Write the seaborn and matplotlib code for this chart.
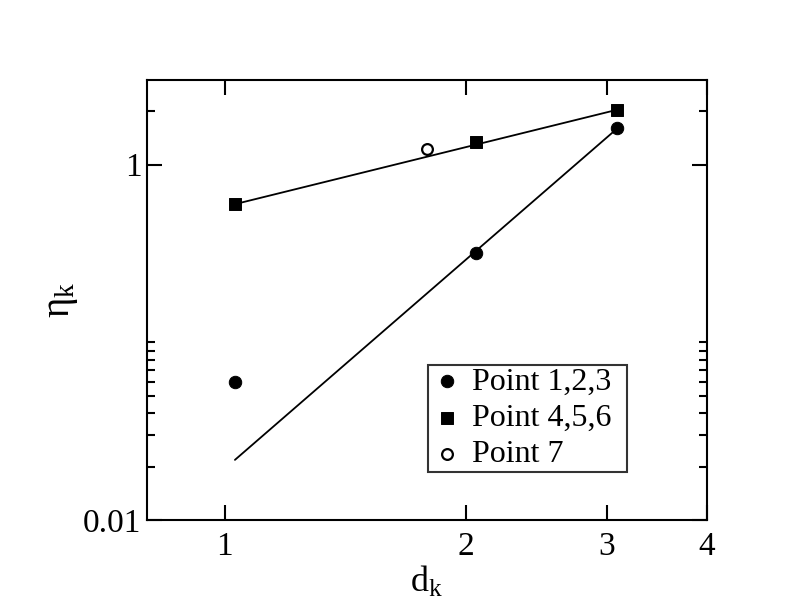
import numpy as np
import pandas as pd
import matplotlib
matplotlib.use('Agg')
import matplotlib.pyplot as plt
from matplotlib.ticker import FixedLocator, FixedFormatter, NullLocator, NullFormatter
import seaborn as sns

# values
d_123 = [1.03, 2.06, 3.09]
eta_123 = [0.060, 0.32, 1.60]
d_456 = [1.03, 2.06, 3.09]
eta_456 = [0.60, 1.35, 2.04]
d_7 = [1.79]
eta_7 = [1.23]

# fitted lines (end points)
fit_x = [1.03, 3.09]
fit_123 = [0.0218, 1.60]
fit_456 = [0.60, 2.04]

x_ticks = [1, 2, 3, 4]
x_labels = ['1', '2', '3', '4']
y_ticks = [0.01, 1]
y_labels = ['0.01', '1']

sns.set_style('ticks')
plt.rcParams['font.family'] = ['Liberation Serif', 'DejaVu Serif']
plt.rcParams['mathtext.fontset'] = 'custom'
plt.rcParams['mathtext.rm'] = 'Liberation Serif'
plt.rcParams['mathtext.it'] = 'Liberation Serif'
for k in ['text.color', 'axes.labelcolor', 'xtick.color', 'ytick.color']:
    plt.rcParams[k] = 'black'

fig = plt.figure(figsize=(7.92, 6.12), dpi=100)
ax = fig.add_axes([147 / 792, 92 / 612, 560 / 792, 440 / 612])

df123 = pd.DataFrame({'d': d_123, 'eta': eta_123})
df456 = pd.DataFrame({'d': d_456, 'eta': eta_456})
df7 = pd.DataFrame({'d': d_7, 'eta': eta_7})

sns.lineplot(x=fit_x, y=fit_456, ax=ax, color='black', lw=1.3, legend=False)
sns.lineplot(x=fit_x, y=fit_123, ax=ax, color='black', lw=1.3, legend=False)

sns.scatterplot(data=df123, x='d', y='eta', ax=ax, marker='o', s=80,
                color='black', edgecolor='black', label='Point 1,2,3', zorder=3)
sns.scatterplot(data=df456, x='d', y='eta', ax=ax, marker='s', s=75,
                color='black', edgecolor='black', label='Point 4,5,6', zorder=3)
sns.scatterplot(data=df7, x='d', y='eta', ax=ax, marker='o', s=60,
                facecolor='white', edgecolor='black', linewidth=1.6,
                label='Point 7', zorder=3)

ax.set_xscale('log')
ax.set_yscale('log')
ax.set_xlim(0.8, 4)
ax.set_ylim(0.01, 3)

ax.xaxis.set_major_locator(FixedLocator(x_ticks))
ax.xaxis.set_major_formatter(FixedFormatter(x_labels))
ax.xaxis.set_minor_locator(NullLocator())
ax.xaxis.set_minor_formatter(NullFormatter())
ax.yaxis.set_major_locator(FixedLocator(y_ticks))
ax.yaxis.set_major_formatter(FixedFormatter(y_labels))
ax.yaxis.set_minor_locator(FixedLocator([0.02, 0.03, 0.04, 0.05, 0.06, 0.07,
                                         0.08, 0.09, 0.1, 2]))
ax.yaxis.set_minor_formatter(NullFormatter())

ax.tick_params(which='both', direction='in', top=True, right=True,
               width=1.5, labelsize=24, pad=8)
ax.tick_params(axis='y', which='both', pad=4)
ax.tick_params(which='major', length=11)
ax.tick_params(which='minor', length=6)
for sp in ax.spines.values():
    sp.set_linewidth(1.5)
    sp.set_color('black')

ax.set_xlabel(r'$\mathrm{d}_\mathrm{k}$', fontsize=26, labelpad=2)
ax.set_ylabel(r'$\eta_\mathrm{k}$', fontsize=28, labelpad=2)

leg = ax.legend(loc='lower left', bbox_to_anchor=(0.502, 0.109, 0.355, 0.239),
                mode='expand', fontsize=23,
                frameon=True, fancybox=False, handletextpad=0.3,
                borderpad=0.08, labelspacing=0.22, handlelength=1.0,
                borderaxespad=0)
leg.get_frame().set_edgecolor('black')
leg.get_frame().set_linewidth(1.5)

fig.savefig('out.png', dpi=100)
